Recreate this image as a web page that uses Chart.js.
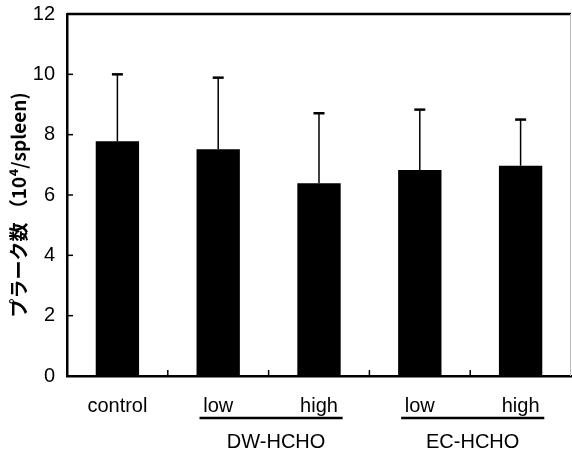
<!DOCTYPE html>
<html>
<head>
<meta charset="utf-8">
<script src="https://cdn.jsdelivr.net/npm/chart.js@4/dist/chart.umd.min.js"></script>
<style>
  html, body { margin: 0; padding: 0; background: #fff; }
  #wrap { width: 572px; height: 456px; }
</style>
</head>
<body>
<div id="wrap"><canvas id="chart" width="572" height="456"></canvas></div>
<script>
// values
const categories = ['control', 'low', 'high', 'low', 'high'];
const means = [7.78, 7.52, 6.39, 6.83, 6.97];
const sd = [2.22, 2.37, 2.32, 2.00, 1.53];
const groupLabels = ['DW-HCHO', 'EC-HCHO'];
const groupFirst = [1, 3];
const groupLast = [2, 4];
const yTicks = [0, 2, 4, 6, 8, 10, 12];
const yTitle = 'プラーク数 （10⁴/spleen)';

const FONT = '"Liberation Sans", Arial, sans-serif';

// error bars, frame, inner ticks, group labels
const extras = {
  id: 'extras',
  afterDatasetsDraw(chart) {
    const ctx = chart.ctx;
    const x = chart.scales.x, y = chart.scales.y;
    const area = chart.chartArea;
    const bars = chart.getDatasetMeta(0).data;

    ctx.save();
    ctx.strokeStyle = '#000';
    // error bars (upper only)
    bars.forEach((b, i) => {
      const top = y.getPixelForValue(means[i] + sd[i]);
      ctx.lineWidth = 1.5;
      ctx.beginPath();
      ctx.moveTo(b.x, b.y);
      ctx.lineTo(b.x, top);
      ctx.stroke();
      ctx.lineWidth = 2.5;
      ctx.beginPath();
      ctx.moveTo(b.x - 5.5, top);
      ctx.lineTo(b.x + 5.5, top);
      ctx.stroke();
    });

    // frame: top thick, right faint
    ctx.lineWidth = 2.5;
    ctx.beginPath();
    ctx.moveTo(area.left, area.top);
    ctx.lineTo(area.right, area.top);
    ctx.stroke();
    ctx.strokeStyle = '#bbb';
    ctx.lineWidth = 1;
    ctx.beginPath();
    ctx.moveTo(area.right - 0.5, area.top);
    ctx.lineTo(area.right - 0.5, area.bottom);
    ctx.stroke();

    // inner ticks
    ctx.strokeStyle = '#000';
    ctx.lineWidth = 1.5;
    yTicks.slice(1, -1).forEach(v => {
      const py = y.getPixelForValue(v);
      ctx.beginPath();
      ctx.moveTo(area.left, py);
      ctx.lineTo(area.left + 6, py);
      ctx.stroke();
    });
    for (let i = 0; i < categories.length - 1; i++) {
      const px = (x.getPixelForValue(i) + x.getPixelForValue(i + 1)) / 2;
      ctx.beginPath();
      ctx.moveTo(px, area.bottom);
      ctx.lineTo(px, area.bottom - 6);
      ctx.stroke();
    }

    // group underline + label
    groupLabels.forEach((g, k) => {
      const b0 = bars[groupFirst[k]], b1 = bars[groupLast[k]];
      const x0 = b0.x - b0.width / 2 + 3;
      const x1 = b1.x + b1.width / 2 + 2;
      ctx.lineWidth = 2.5;
      ctx.beginPath();
      ctx.moveTo(x0, 418);
      ctx.lineTo(x1, 418);
      ctx.stroke();
      ctx.fillStyle = '#000';
      ctx.font = '20px ' + FONT;
      ctx.textAlign = 'center';
      ctx.textBaseline = 'middle';
      ctx.fillText(g, (x0 + x1) / 2 + (k === 0 ? 5 : 0), 442);
    });

    // y title
    ctx.translate(19, 205);
    ctx.rotate(-Math.PI / 2);
    ctx.font = 'bold 19px "Noto Sans CJK JP", ' + FONT;
    ctx.textAlign = 'center';
    ctx.textBaseline = 'middle';
    ctx.fillText(yTitle, 0, 0);
    ctx.restore();
  }
};

new Chart(document.getElementById('chart'), {
  type: 'bar',
  data: {
    labels: categories,
    datasets: [{
      data: means,
      backgroundColor: '#000',
      borderWidth: 0,
      categoryPercentage: 1,
      barPercentage: 0.43
    }]
  },
  options: {
    responsive: false,
    animation: false,
    layout: { padding: { top: 14, right: 1, left: 0, bottom: 0 } },
    plugins: { legend: { display: false }, tooltip: { enabled: false } },
    scales: {
      x: {
        grid: { display: false, drawTicks: false },
        border: { color: '#000', width: 2.5 },
        ticks: { color: '#000', padding: 18, font: { family: FONT, size: 20 } },
        afterFit(s) { s.height = 80; s.paddingLeft = 0; s.paddingRight = 0; }
      },
      y: {
        min: 0,
        max: 12,
        afterBuildTicks(s) { s.ticks = yTicks.map(v => ({ value: v })); },
        grid: { display: false, drawTicks: false },
        border: { color: '#000', width: 2.5 },
        ticks: { color: '#000', padding: 12, font: { family: FONT, size: 20 } },
        afterFit(s) { s.width = 67; s.paddingTop = 0; s.paddingBottom = 0; }
      }
    }
  },
  plugins: [extras]
});
</script>
</body>
</html>
